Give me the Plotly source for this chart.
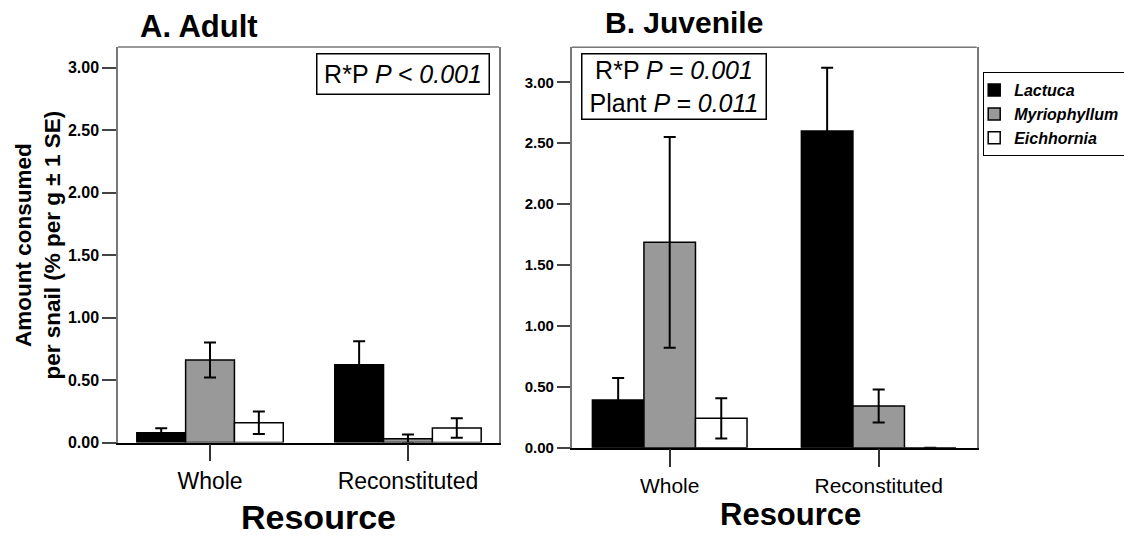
import plotly.graph_objects as go

# ---------------- data ----------------
categories = ["Whole", "Reconstituted"]
species = ["Lactuca", "Myriophyllum", "Eichhornia"]
bar_colors = ["#000000", "#999999", "#ffffff"]

adult_lactuca = [0.078, 0.622]
adult_myrio = [0.66, 0.03]
adult_eich = [0.158, 0.116]
adult_lactuca_se = [0.036, 0.188]
adult_myrio_se = [0.14, 0.035]
adult_eich_se = [0.09, 0.078]

juv_lactuca = [0.392, 2.60]
juv_myrio = [1.686, 0.342]
juv_eich = [0.241, 0.0]
juv_lactuca_se = [0.18, 0.52]
juv_myrio_se = [0.865, 0.136]
juv_eich_se = [0.165, 0.0]

y_tickvals = [0.0, 0.5, 1.0, 1.5, 2.0, 2.5, 3.0]
y_ticktext = ["0.00", "0.50", "1.00", "1.50", "2.00", "2.50", "3.00"]

# ---------------- layout helpers ----------------
W, H = 1124, 539
FONT = "Liberation Sans, Arial, Helvetica, sans-serif"


def px(x):
    return x / W


def py(y):
    return 1 - y / H


fig = go.Figure()

panels = [
    ("x", "y", [adult_lactuca, adult_myrio, adult_eich],
     [adult_lactuca_se, adult_myrio_se, adult_eich_se], False),
    ("x2", "y2", [juv_lactuca, juv_myrio, juv_eich],
     [juv_lactuca_se, juv_myrio_se, juv_eich_se], True),
]

for xa, ya, vals, ses, show in panels:
    for name, col, v, se in zip(species, bar_colors, vals, ses):
        fig.add_trace(go.Bar(
            x=categories, y=v, name=name, legendgroup=name, showlegend=show,
            xaxis=xa, yaxis=ya,
            marker=dict(color=col, line=dict(color="black", width=1.5)),
            error_y=dict(type="data", array=se, visible=True,
                         color="black", thickness=2, width=6),
        ))

frame_col = "#777777"

common_x = dict(type="category", showline=True, linecolor="black", linewidth=1.5,
                ticks="outside", tickcolor="#333333", tickwidth=1.5,
                showgrid=False, zeroline=False, fixedrange=True)
common_y = dict(tickvals=y_tickvals, ticktext=y_ticktext, ticks="outside",
                tickcolor="#444444", tickwidth=1.5, showline=True,
                linecolor=frame_col, linewidth=1.5, mirror=True,
                showgrid=False, zeroline=False)

fig.update_layout(
    width=W, height=H,
    margin=dict(l=0, r=0, t=0, b=0, autoexpand=False),
    paper_bgcolor="white", plot_bgcolor="white",
    barmode="group", bargap=0.26, bargroupgap=0,
    font=dict(family=FONT, color="black"),
    xaxis=dict(domain=[px(118), px(499)], range=[-0.465, 1.46], anchor="y",
               ticklen=17, tickfont=dict(size=23), **common_x),
    yaxis=dict(domain=[py(442.5), py(47)], range=[0, 3.164], anchor="x",
               ticklen=14, tickfont=dict(size=16, weight="bold"), **common_y),
    xaxis2=dict(domain=[px(571.7), px(976.7)], range=[-0.469, 1.469], anchor="y2",
                ticklen=18, tickfont=dict(size=21), **common_x),
    yaxis2=dict(domain=[py(447.7), py(47.3)], range=[0, 3.287], anchor="x2",
                ticklen=13, tickfont=dict(size=15, weight="bold"), **common_y),
    legend=dict(x=px(983), y=py(72), xanchor="left", yanchor="top",
                bordercolor="black", borderwidth=1.2, bgcolor="white",
                font=dict(size=16, style="italic", weight="bold"),
                indentation=-10, traceorder="normal"),
    shapes=[
        dict(type="line", xref="x domain", yref="y domain", x0=0, x1=1, y0=1, y1=1,
             line=dict(color=frame_col, width=1.5)),
        dict(type="line", xref="x2 domain", yref="y2 domain", x0=0, x1=1, y0=1, y1=1,
             line=dict(color=frame_col, width=1.5)),
    ],
    annotations=[
        dict(text="<b>A. Adult</b>", xref="paper", yref="paper", x=px(138), y=py(27),
             xanchor="left", yanchor="middle", showarrow=False, font=dict(size=31)),
        dict(text="<b>B. Juvenile</b>", xref="paper", yref="paper", x=px(603), y=py(23),
             xanchor="left", yanchor="middle", showarrow=False, font=dict(size=30)),
        dict(text="<b>Amount consumed<br>per snail (% per g ± 1 SE)</b>", textangle=-90,
             xref="paper", yref="paper", x=px(37.5), y=py(245), xanchor="center",
             yanchor="middle", showarrow=False, font=dict(size=22.5)),
        dict(text="<b>Resource</b>", xref="paper", yref="paper", x=px(318.5), y=py(517),
             xanchor="center", yanchor="middle", showarrow=False, font=dict(size=34)),
        dict(text="<b>Resource</b>", xref="paper", yref="paper", x=px(790), y=py(514),
             xanchor="center", yanchor="middle", showarrow=False, font=dict(size=31)),
        dict(text="R*P <i>P &lt; 0.001</i>", xref="paper", yref="paper",
             x=px(316), y=py(53.3), xanchor="left", yanchor="top", showarrow=False,
             width=171, height=39, borderpad=0, bordercolor="black", borderwidth=1.5,
             bgcolor="white", font=dict(size=25)),
        dict(text="R*P <i>P = 0.001</i><br>Plant <i>P = 0.011</i>", xref="paper",
             yref="paper", x=px(580.7), y=py(52.7), xanchor="left", yanchor="top",
             showarrow=False, width=183, height=64, borderpad=0, bordercolor="black",
             borderwidth=1.5, bgcolor="white", font=dict(size=25)),
    ],
)

fig.write_html("out.html", config={"displayModeBar": False},
               post_script="document.body.style.margin='0px';document.body.style.overflow='hidden';")
